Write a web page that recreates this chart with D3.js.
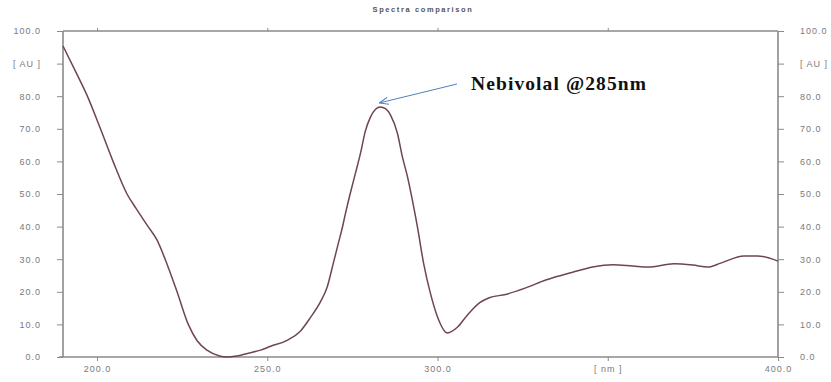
<!DOCTYPE html>
<html>
<head>
<meta charset="utf-8">
<script src="https://cdn.jsdelivr.net/npm/d3@7"></script>
<style>
  body { margin: 0; background: #fff; }
  svg { display: block; font-family: "Liberation Sans", Arial, sans-serif; }
</style>
</head>
<body>
<div id="chart"></div>
<script>
// spectrum
const wavelength = [190, 193.5, 197, 201, 204.7, 208.8, 211.5, 215, 217.6, 220, 223.5, 226.8, 229.4, 232.4, 236, 238, 241, 245, 248, 251, 256, 259.7, 262.6, 265.6, 267.6, 269.4, 270.9, 272, 273, 274.4, 275.9, 277.4, 278.8, 280.3, 281.8, 283.2, 284.7, 286.2, 288.2, 289.7, 291.2, 292.6, 294.1, 295.9, 297.9, 300, 302.9, 305.9, 308.8, 312.3, 315, 320, 325.9, 331.8, 339.7, 345.6, 351.5, 357.4, 361.8, 369.4, 375, 379.4, 383.2, 390, 394, 400];
const absorbance = [95.4, 88, 80.4, 70, 60, 50, 45.5, 40, 35.9, 30, 20, 10, 5, 2, 0.3, 0, 0.3, 1.3, 2.1, 3.3, 5.2, 7.9, 12, 16.9, 21.5, 28.8, 35, 39.5, 44.2, 50.3, 56.4, 62.6, 69.3, 73.6, 76, 76.7, 76.2, 74.2, 68.7, 61.3, 55.2, 48.2, 39.9, 28.8, 19.6, 12.3, 7.4, 9.2, 12.9, 16.6, 18.1, 19.2, 21.2, 23.6, 26, 27.6, 28.3, 27.9, 27.6, 28.6, 28.2, 27.6, 28.8, 31, 31, 29.4];

const xTicks = [200, 250, 300, 350, 400];
const xTickLabels = ['200.0', '250.0', '300.0', '[ nm ]', '400.0'];
const yTicks = [0, 10, 20, 30, 40, 50, 60, 70, 80, 90, 100];
const yTickLabels = ['0.0', '10.0', '20.0', '30.0', '40.0', '50.0', '60.0', '70.0', '80.0', '[ AU ]', '100.0'];

const title = 'Spectra comparison';
const note = 'Nebivolal @285nm';
const notePeak = [283.2, 76.7];

const width = 831, height = 382;
const plot = { left: 63, right: 778, top: 31, bottom: 357 };

const svg = d3.select('#chart').append('svg')
  .attr('width', width)
  .attr('height', height);

const x = d3.scaleLinear().domain([190, 400]).range([plot.left, plot.right]);
const y = d3.scaleLinear().domain([0, 100]).range([plot.bottom, plot.top]);

const axisColor = '#8a8a8a';
const labelColor = '#7a7a7a';

// left axis
const yLeft = svg.append('g')
  .attr('transform', `translate(${plot.left},0)`)
  .call(d3.axisLeft(y).tickValues(yTicks).tickSize(6).tickPadding(16)
    .tickFormat((d, i) => yTickLabels[i]));

// right axis
const yRight = svg.append('g')
  .attr('transform', `translate(${plot.right},0)`)
  .call(d3.axisRight(y).tickValues(yTicks).tickSize(6).tickPadding(16)
    .tickFormat((d, i) => yTickLabels[i]));

// bottom axis
const xBottom = svg.append('g')
  .attr('transform', `translate(0,${plot.bottom})`)
  .call(d3.axisBottom(x).tickValues(xTicks).tickSize(4).tickPadding(3)
    .tickFormat((d, i) => xTickLabels[i]));

// top axis (small marks only)
const xTop = svg.append('g')
  .attr('transform', `translate(0,${plot.top})`)
  .call(d3.axisTop(x).tickValues(xTicks.slice(0, 4)).tickSize(3).tickFormat(''));

[yLeft, yRight, xBottom, xTop].forEach(g => {
  g.select('.domain').attr('stroke', axisColor).attr('stroke-width', 1.6);
  g.selectAll('.tick line').attr('stroke', axisColor).attr('stroke-width', 1);
  g.selectAll('.tick text')
    .attr('fill', labelColor)
    .style('font-size', '9px')
    .style('letter-spacing', '1px');
});
yLeft.select('.domain').attr('d', `M0,${plot.top}V${plot.bottom}`);
yRight.select('.domain').attr('d', `M0,${plot.top}V${plot.bottom}`);
xBottom.select('.domain').attr('d', `M${plot.left - 4},0H${plot.right}`);
xTop.select('.domain').attr('d', `M${plot.left},0H${plot.right}`);
xBottom.selectAll('.tick text').attr('dy', '0.9em');

// spectrum line
const line = d3.line()
  .x((d, i) => x(wavelength[i]))
  .y(d => y(d))
  .curve(d3.curveMonotoneX);

svg.append('path')
  .datum(absorbance)
  .attr('fill', 'none')
  .attr('stroke', '#6e4550')
  .attr('stroke-width', 1.5)
  .attr('d', line);

// title
svg.append('text')
  .attr('x', 423)
  .attr('y', 12)
  .attr('text-anchor', 'middle')
  .attr('fill', '#555')
  .style('font-size', '7.5px')
  .style('font-weight', 'bold')
  .style('letter-spacing', '1.6px')
  .text(title);

// annotation
const defs = svg.append('defs');
defs.append('marker')
  .attr('id', 'head')
  .attr('viewBox', '0 0 10 10')
  .attr('refX', 10).attr('refY', 5)
  .attr('markerWidth', 9).attr('markerHeight', 9)
  .attr('orient', 'auto')
  .append('path')
  .attr('d', 'M0,1 L10,5 L0,9')
  .attr('fill', 'none')
  .attr('stroke', '#4f81bd')
  .attr('stroke-width', 1.2);

svg.append('line')
  .attr('x1', 457).attr('y1', 84)
  .attr('x2', x(notePeak[0]) - 1).attr('y2', y(notePeak[1]) - 4)
  .attr('stroke', '#4f81bd')
  .attr('stroke-width', 1)
  .attr('marker-end', 'url(#head)');

svg.append('text')
  .attr('x', 471)
  .attr('y', 90)
  .attr('fill', '#111')
  .style('font-family', '"Liberation Serif", "Times New Roman", serif')
  .style('font-weight', 'bold')
  .style('font-size', '19.5px')
  .style('letter-spacing', '1.1px')
  .text(note);
</script>
</body>
</html>
